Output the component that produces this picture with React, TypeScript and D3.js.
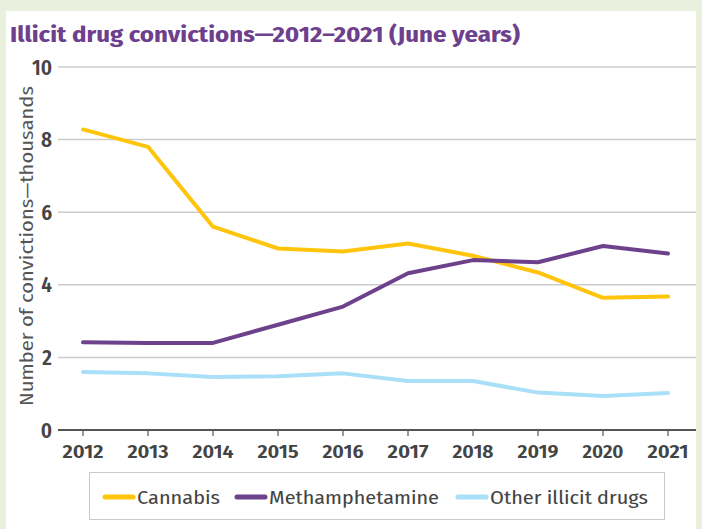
import React from "react";
import * as d3 from "d3";

const years = [2012, 2013, 2014, 2015, 2016, 2017, 2018, 2019, 2020, 2021];
const cannabis = [8.28, 7.8, 5.6, 5.0, 4.92, 5.14, 4.8, 4.34, 3.64, 3.68];
const methamphetamine = [2.42, 2.4, 2.4, 2.9, 3.4, 4.32, 4.68, 4.62, 5.07, 4.86];
const otherDrugs = [1.6, 1.56, 1.46, 1.48, 1.56, 1.35, 1.35, 1.03, 0.94, 1.02];
const yTicks = [0, 2, 4, 6, 8, 10];
const seriesNames = ["Cannabis", "Methamphetamine", "Other illicit drugs"];
const seriesColors = ["#ffc50d", "#6e418c", "#a9dff7"];

const W = 702;
const H = 529;
const FONT = "'Fira Sans Condensed', 'Liberation Sans Narrow', 'Roboto Condensed', Roboto, sans-serif";

export default function App() {
  const x = d3.scaleLinear().domain([2012, 2021]).range([83, 668]);
  const y = d3.scaleLinear().domain([0, 10]).range([430, 67]);
  const line = d3
    .line<number>()
    .x((_, i) => x(years[i]))
    .y((d) => y(d));
  const series = [cannabis, methamphetamine, otherDrugs];
  const legendItems = [
    { lx: 105, tx: 137, tw: 83 },
    { lx: 237, tx: 269, tw: 170 },
    { lx: 458, tx: 490, tw: 158 },
  ];
  return (
    <svg
      width={W}
      height={H}
      style={{ position: "absolute", left: 0, top: 0, display: "block" }}
      fontFamily={FONT}
    >
      <rect x={0} y={0} width={W} height={H} fill="#e9f0dd" />
      <rect x={6} y={11} width={690} height={H - 11} fill="#ffffff" />
      <text x={10} y={42} fontSize={22} fontWeight={700} fill="#6e3f8c" textLength={510} lengthAdjust="spacingAndGlyphs">
        Illicit drug convictions—2012–2021 (June years)
      </text>
      {yTicks.map((t) =>
        t === 0 ? null : (
          <line key={t} x1={58} x2={696} y1={y(t)} y2={y(t)} stroke="#cccccc" strokeWidth={1.5} />
        )
      )}
      {yTicks.map((t) => (
        <text key={"l" + t} x={52} y={y(t)} dy="0.36em" textAnchor="end" fontSize={21} fontWeight={600} fill="#444">
          {t}
        </text>
      ))}
      <text
        transform={`translate(33,${246}) rotate(-90)`}
        textAnchor="middle"
        fontSize={18}
        fill="#555"
        textLength={320}
        lengthAdjust="spacingAndGlyphs"
      >
        Number of convictions—thousands
      </text>
      {series.map((s, i) => (
        <path
          key={i}
          d={line(s) || ""}
          fill="none"
          stroke={seriesColors[i]}
          strokeWidth={4}
          strokeLinecap="round"
          strokeLinejoin="round"
        />
      ))}
      <line x1={58} x2={696} y1={y(0)} y2={y(0)} stroke="#555" strokeWidth={2} />
      {years.map((yr) => (
        <g key={yr}>
          <line x1={x(yr)} x2={x(yr)} y1={y(0)} y2={y(0) + 6} stroke="#555" strokeWidth={1.2} />
          <text x={x(yr)} y={458} textAnchor="middle" fontSize={18} fontWeight={600} fill="#444" textLength={41} lengthAdjust="spacingAndGlyphs">
            {yr}
          </text>
        </g>
      ))}
      <rect x={89.5} y={472.5} width={575} height={47} fill="#fff" stroke="#c8c8c8" strokeWidth={1} />
      {seriesNames.map((n, i) => (
        <g key={n}>
          <line
            x1={legendItems[i].lx}
            x2={legendItems[i].lx + 28}
            y1={497}
            y2={497}
            stroke={seriesColors[i]}
            strokeWidth={5}
            strokeLinecap="round"
          />
          <text x={legendItems[i].tx} y={503.5} fontSize={19} fill="#444" textLength={legendItems[i].tw} lengthAdjust="spacingAndGlyphs">
            {n}
          </text>
        </g>
      ))}
    </svg>
  );
}
